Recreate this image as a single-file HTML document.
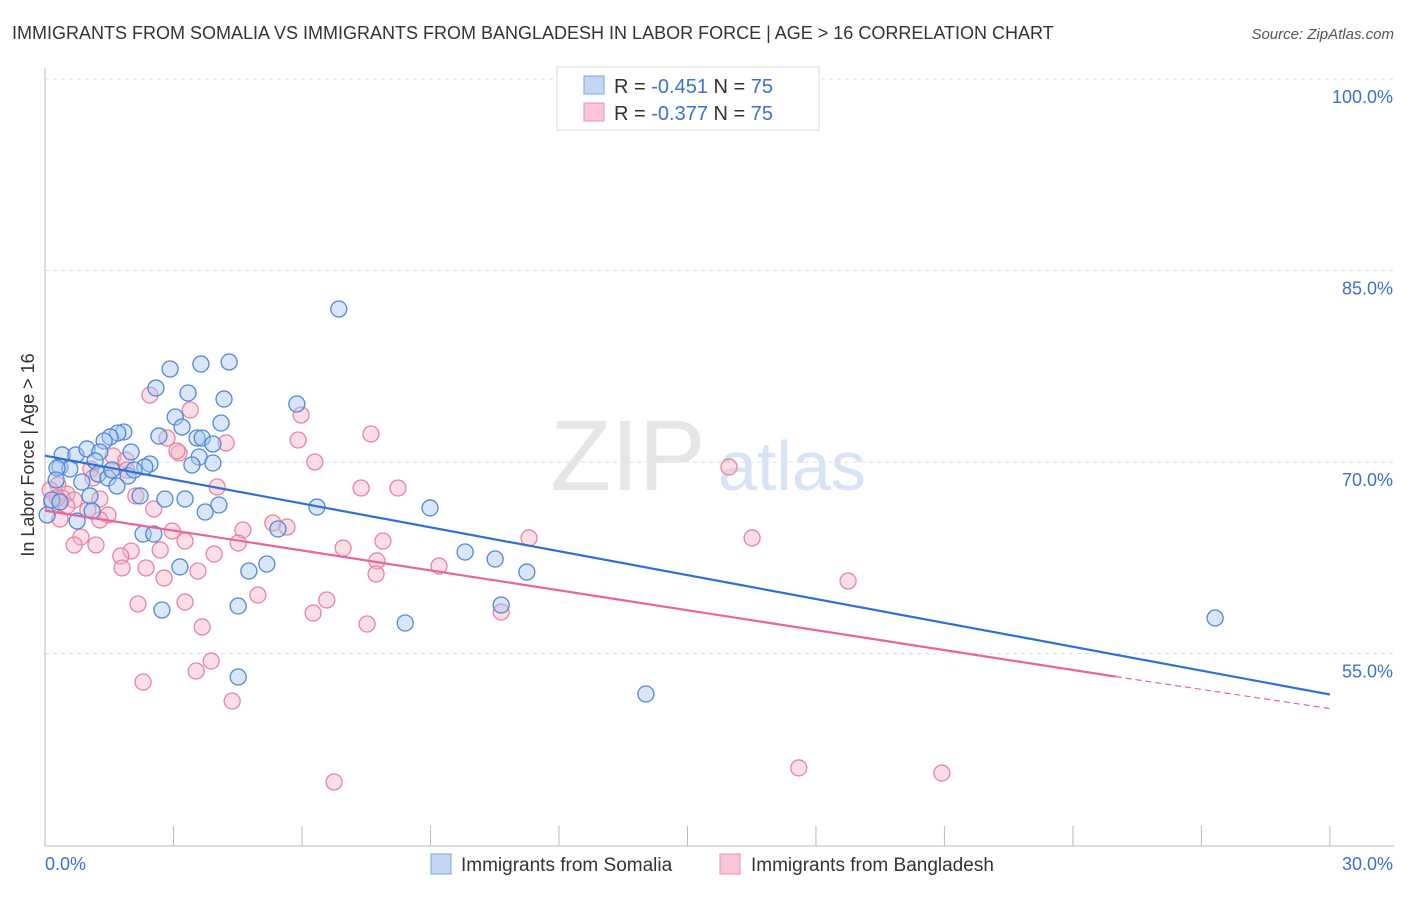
<!DOCTYPE html>
<html><head><meta charset="utf-8"><style>
body{margin:0;background:#fff;font-family:"Liberation Sans",sans-serif}
svg text{font-family:"Liberation Sans",sans-serif}
</style></head><body>
<svg width="1406" height="892" xmlns="http://www.w3.org/2000/svg">
<text x="12" y="39" font-size="18" fill="#333">IMMIGRANTS FROM SOMALIA VS IMMIGRANTS FROM BANGLADESH IN LABOR FORCE | AGE &gt; 16 CORRELATION CHART</text>
<text x="1394" y="39" font-size="15" fill="#555" font-style="italic" text-anchor="end">Source: ZipAtlas.com</text>
<g id="grid"></g>
<g id="axes"></g>
<text x="550" y="490" font-size="100" fill="#e6e6e6" font-family="Liberation Serif">ZIP</text>
<text x="718" y="490" font-size="70" fill="#d6e4f5">atlas</text>
<g id="pts"></g>
<g id="trend"></g>
<text transform="translate(34,455) rotate(-90)" font-size="18" fill="#333" text-anchor="middle">In Labor Force | Age &gt; 16</text>
<g>
<rect x="557" y="67" width="262" height="63" fill="#fff" stroke="#ddd"/>
<rect x="584" y="76" width="20" height="18" fill="#c3d7f3" stroke="#7aa6e0"/>
<rect x="584" y="103" width="20" height="18" fill="#f8c6d4" stroke="#eb93ad"/>
<text x="614" y="93" font-size="20" fill="#333">R = <tspan fill="#3a70d4">-0.451</tspan>   N = <tspan fill="#3a70d4">75</tspan></text>
<text x="614" y="120" font-size="20" fill="#333">R = <tspan fill="#3a70d4">-0.377</tspan>   N = <tspan fill="#3a70d4">75</tspan></text>
</g>
<g>
<rect x="431" y="854" width="20" height="20" fill="#c3d7f3" stroke="#7aa6e0"/>
<text x="461" y="871" font-size="19" fill="#333">Immigrants from Somalia</text>
<rect x="720" y="854" width="20" height="20" fill="#f8c6d4" stroke="#eb93ad"/>
<text x="751" y="871" font-size="19" fill="#333">Immigrants from Bangladesh</text>
</g>
</svg>
<script>
const yTicks=[100,85,70,55];
const xTickLabels=["0.0%","30.0%"];
const bluePx=[[339,309],[229,362],[201,364],[170,369],[156,388],[188,393],[297,404],[224,399],[175,417],[221,423],[182,427],[124,432],[118,433],[159,436],[110,437],[197,438],[202,438],[213,444],[104,441],[62,455],[76,455],[87,449],[100,452],[131,452],[199,457],[95,461],[213,463],[192,465],[150,464],[145,467],[60,467],[70,469],[57,468],[98,474],[128,476],[56,480],[108,478],[82,482],[117,486],[90,496],[140,496],[165,499],[185,499],[219,505],[205,512],[317,507],[430,508],[92,511],[77,521],[47,515],[143,534],[154,534],[278,529],[465,552],[495,559],[267,564],[249,571],[180,567],[527,572],[162,610],[238,606],[501,605],[405,623],[1215,618],[238,677],[646,694],[52,500],[60,502],[112,470],[134,470]];
const pinkPx=[[150,395],[190,410],[301,415],[167,438],[226,443],[298,440],[371,434],[179,453],[177,451],[113,456],[126,460],[315,462],[729,467],[91,469],[127,470],[93,478],[217,487],[361,488],[398,488],[58,485],[50,490],[67,494],[62,498],[74,500],[100,499],[136,496],[52,503],[67,506],[88,510],[108,515],[154,509],[60,519],[81,537],[243,530],[273,523],[287,527],[172,531],[185,541],[238,543],[383,541],[529,538],[752,538],[74,545],[96,545],[131,551],[160,550],[121,556],[214,554],[343,548],[377,561],[122,568],[198,571],[146,568],[439,566],[164,578],[376,574],[848,581],[138,604],[185,602],[258,595],[327,600],[313,613],[501,612],[367,624],[202,627],[211,661],[196,671],[143,682],[232,701],[334,782],[799,768],[942,773],[112,470],[57,498],[100,520]];
// data values (x %, y %) derived from the picture
const somaliaX=bluePx.map(p=>+((p[0]-45)/42.83).toFixed(2));
const somaliaY=bluePx.map(p=>+(100-(p[1]-79)/12.77).toFixed(2));
const bangX=pinkPx.map(p=>+((p[0]-45)/42.83).toFixed(2));
const bangY=pinkPx.map(p=>+(100-(p[1]-79)/12.77).toFixed(2));
const blueTrend=[[0,70.5],[30,51.8]];
const pinkTrend=[[0,66.2],[25,53.2],[30,50.7]];
const X=v=>45+v*42.83, Y=v=>79+(100-v)*12.77;
const NS="http://www.w3.org/2000/svg";
function mk(tag,attrs,parent){const e=document.createElementNS(NS,tag);for(const k in attrs)e.setAttribute(k,attrs[k]);parent.appendChild(e);return e;}
const grid=document.getElementById('grid'),axes=document.getElementById('axes');
yTicks.forEach(t=>{
 const l=mk('line',{x1:45,x2:1394,y1:Y(t),y2:Y(t),stroke:'#ddd','stroke-dasharray':'4,4'},grid);
 
 
 const tx=mk('text',{x:1393,y:Y(t)+24,'font-size':18,fill:'#3a70d4','text-anchor':'end'},axes);
 tx.textContent=t.toFixed(1)+'%';
 
 
});
mk('line',{x1:45,x2:45,y1:68,y2:846,stroke:'#bbb'},axes);
mk('line',{x1:45,x2:1394,y1:846,y2:846,stroke:'#bbb'},axes);
for(let i=0;i<=10;i++){const t=mk('line',{x1:X(i*3),x2:X(i*3),y1:826,y2:846,stroke:'#bbb'},axes);
 
 }
[[0,'start',45],[1,'end',1393]].forEach(([i,a,x])=>{const t=mk('text',{x:x,y:870,'font-size':18,fill:'#3a70d4','text-anchor':a},axes);t.textContent=xTickLabels[i];
 
 });
const pts=document.getElementById('pts');
function dots(xs,ys,fill,stroke,name){xs.forEach((x,i)=>{const c=mk('circle',{cx:X(x),cy:Y(ys[i]),r:8,fill:fill,'fill-opacity':0.45,stroke:stroke,'stroke-width':1.3},pts);
 
 });}
dots(bangX,bangY,'#f6b3c7','#e884a3','bangladesh-point');
dots(somaliaX,somaliaY,'#a9c8f0','#4f88d8','somalia-point');
const tr=document.getElementById('trend');
const b=mk('line',{x1:X(blueTrend[0][0]),y1:Y(blueTrend[0][1]),x2:X(blueTrend[1][0]),y2:Y(blueTrend[1][1]),stroke:'#2f6fd6','stroke-width':2.2},tr);


const p1=mk('line',{x1:X(pinkTrend[0][0]),y1:Y(pinkTrend[0][1]),x2:X(pinkTrend[1][0]),y2:Y(pinkTrend[1][1]),stroke:'#e8649a','stroke-width':2.2},tr);


const p2=mk('line',{x1:X(pinkTrend[1][0]),y1:Y(pinkTrend[1][1]),x2:X(pinkTrend[2][0]),y2:Y(pinkTrend[2][1]),stroke:'#e8649a','stroke-width':1.2,'stroke-dasharray':'6,4'},tr);


</script>
</body></html>
